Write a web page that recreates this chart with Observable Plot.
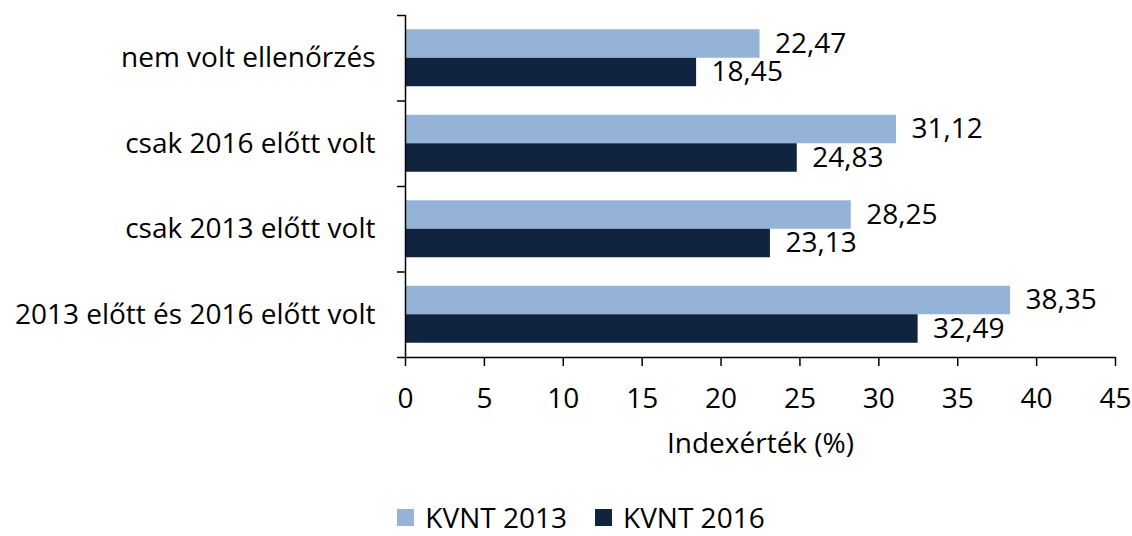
<!DOCTYPE html>
<html>
<head>
<meta charset="utf-8">
<script src="https://cdn.jsdelivr.net/npm/d3@7"></script>
<script src="https://cdn.jsdelivr.net/npm/@observablehq/plot@0.6"></script>
<style>
  html, body { margin: 0; padding: 0; background: #fff; }
  body { width: 1132px; height: 536px; position: relative; font-family: "Open Sans", sans-serif; overflow: hidden; }
  #legend { position: absolute; left: 0; top: 501px; width: 1132px; display: flex; justify-content: center; padding-left: 30px; box-sizing: border-box; font-size: 28px; line-height: 32px; color: #000; }
  .item { display: flex; align-items: center; margin: 0 14px; }
  .sw { width: 17px; height: 17px; margin-right: 11px; }
</style>
</head>
<body>
<div id="chart"></div>
<div id="legend"></div>
<script>
const categories = ["nem volt ellenőrzés", "csak 2016 előtt volt", "csak 2013 előtt volt", "2013 előtt és 2016 előtt volt"];
const seriesNames = ["KVNT 2013", "KVNT 2016"];
const kvnt2013 = [22.47, 31.12, 28.25, 38.35];
const kvnt2016 = [18.45, 24.83, 23.13, 32.49];
const xTicks = [0, 5, 10, 15, 20, 25, 30, 35, 40, 45];
const colors = ["#95b3d7", "#10243f"];
const xLabel = "Indexérték (%)";

const rows = [];
categories.forEach((c, i) => {
  rows.push({cat: c, idx: i, s: 0, series: seriesNames[0], value: kvnt2013[i]});
  rows.push({cat: c, idx: i, s: 1, series: seriesNames[1], value: kvnt2016[i]});
});
const fmt = v => v.toFixed(2).replace(".", ",");

const plot = Plot.plot({
  width: 1132,
  height: 480,
  marginTop: 15,
  marginBottom: 123,
  marginLeft: 405,
  marginRight: 17,
  style: {fontFamily: "Open Sans, sans-serif", fontSize: "28px", color: "#000", background: "#fff"},
  x: {domain: [0, 45]},
  y: {domain: [0, categories.length], reverse: true},
  color: {domain: seriesNames, range: colors},
  marks: [
    Plot.rectX(rows, {
      x1: d => 0, x2: "value",
      y1: d => d.idx + (d.s === 0 ? 1/6 : 1/2),
      y2: d => d.idx + (d.s === 0 ? 1/2 : 5/6),
      fill: "series"
    }),
    Plot.text(rows, {
      x: "value",
      y: d => d.idx + (d.s === 0 ? 1/3 : 2/3),
      text: d => fmt(d.value),
      textAnchor: "start", dx: 15, fontSize: 28, fill: "#000"
    }),
    Plot.text(categories, {
      x: d => 0, y: (d, i) => i + 0.5, text: d => d,
      textAnchor: "end", dx: -30, fontSize: 28, fill: "#000"
    }),
    Plot.axisY({ticks: [0, 1, 2, 3, 4], tickSize: 8, tickFormat: () => "", label: null, stroke: "#000", strokeWidth: 1.5}),
    Plot.axisX({ticks: xTicks, tickSize: 9, tickPadding: 22, label: null, fontSize: 28, stroke: "#000", strokeWidth: 1.5, tickFormat: d => String(d)}),
    Plot.ruleX([0], {stroke: "#000", strokeWidth: 1.5}),
    Plot.ruleY([categories.length], {stroke: "#000", strokeWidth: 1.5}),
    Plot.text([xLabel], {frameAnchor: "bottom", dy: 95, text: d => d, fontSize: 28, fill: "#000"})
  ]
});
document.getElementById("chart").appendChild(plot);

const legend = document.getElementById("legend");
seriesNames.forEach((n, i) => {
  const it = document.createElement("div");
  it.className = "item";
  const sw = document.createElement("div");
  sw.className = "sw";
  sw.style.background = colors[i];
  const t = document.createElement("span");
  t.textContent = n;
  it.appendChild(sw); it.appendChild(t);
  legend.appendChild(it);
});
</script>
</body>
</html>
